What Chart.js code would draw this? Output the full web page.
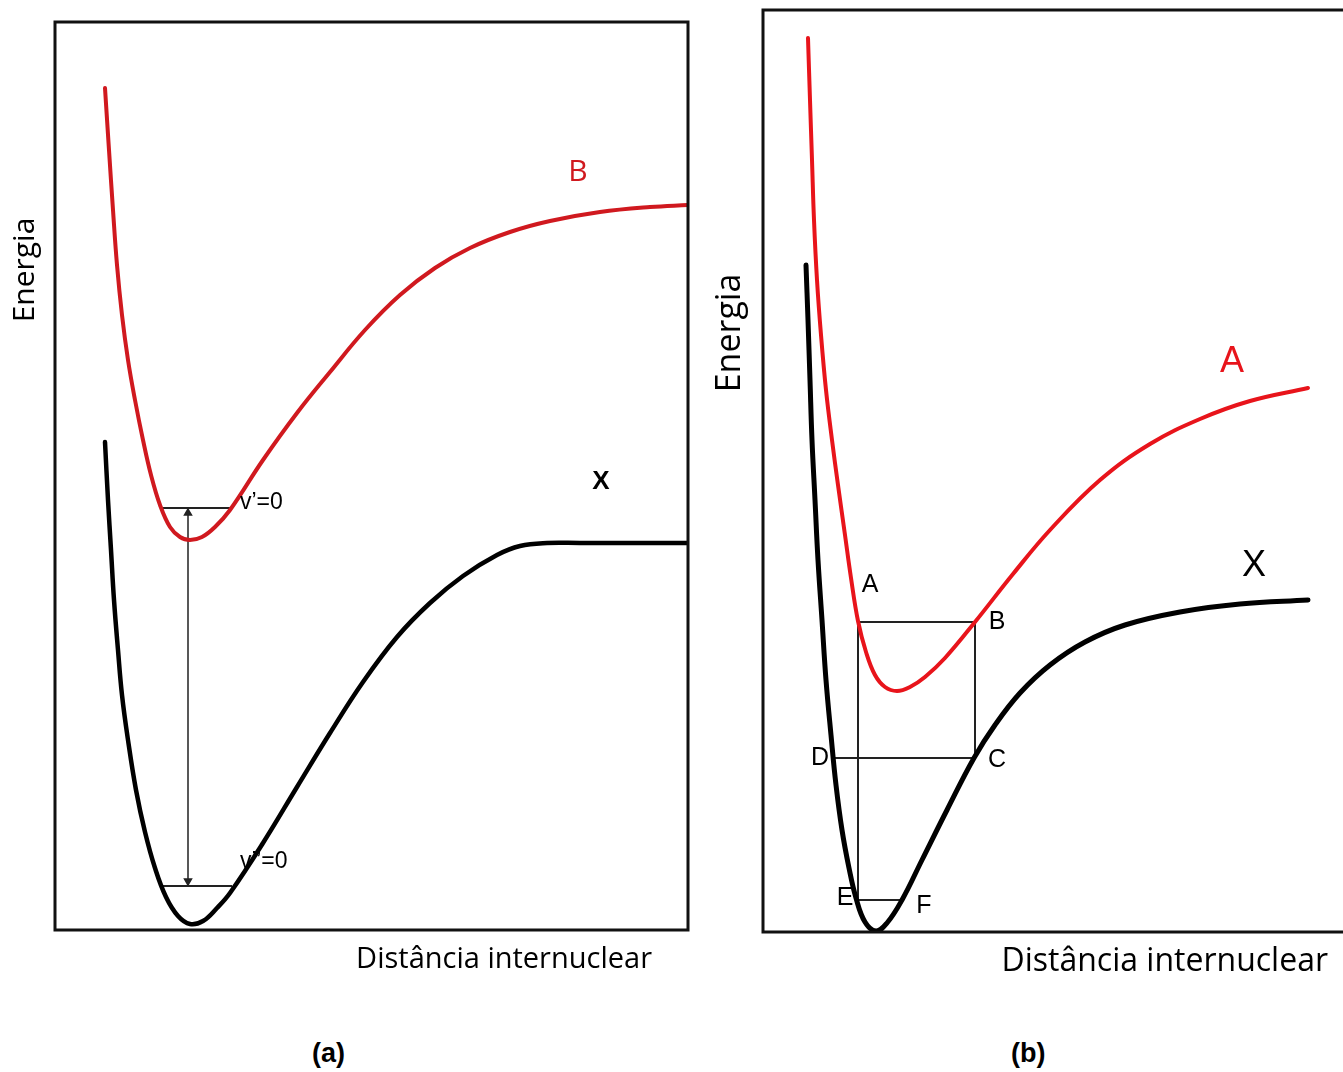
<!DOCTYPE html>
<html>
<head>
<meta charset="utf-8">
<script src="https://cdn.jsdelivr.net/npm/chart.js@4"></script>
<style>
  body { margin: 0; background: #fff; }
  .painel { position: absolute; top: 0; height: 1000px; }
  #painelA { left: 0; width: 700px; }
  #painelB { left: 700px; width: 643px; }
  .letra { position: absolute; top: 1038px; font: bold 27px "Liberation Sans", Arial, sans-serif; }
</style>
</head>
<body>
<div class="painel" id="painelA"><canvas id="graficoA"></canvas></div>
<div class="painel" id="painelB"><canvas id="graficoB"></canvas></div>
<div class="letra" style="left:312px">(a)</div>
<div class="letra" style="left:1011px">(b)</div>

<script>
// ---- painel (a): estados X e B (distância, energia em unidades arbitrárias)
const distB_a = [0.50, 0.54, 0.58, 0.62, 0.67, 0.73, 0.80, 0.88, 0.96, 1.05, 1.15, 1.25, 1.35, 1.47, 1.60, 1.75, 2.08, 2.42, 2.75, 3.10, 3.45, 3.80, 4.15, 4.55, 4.95, 5.45, 5.95, 6.33];
const energB_a = [8.42, 7.80, 7.20, 6.65, 6.15, 5.70, 5.30, 4.90, 4.55, 4.25, 4.03, 3.93, 3.90, 3.93, 4.03, 4.20, 4.70, 5.17, 5.58, 6.00, 6.35, 6.62, 6.82, 6.98, 7.09, 7.18, 7.23, 7.25];

const distX_a = [0.50, 0.53, 0.56, 0.59, 0.63, 0.67, 0.73, 0.81, 0.90, 1.00, 1.11, 1.23, 1.35, 1.48, 1.62, 1.75, 2.08, 2.42, 2.75, 3.08, 3.42, 3.75, 4.08, 4.42, 4.65, 4.92, 5.25, 5.75, 6.33];
const energX_a = [4.88, 4.30, 3.80, 3.30, 2.80, 2.35, 1.90, 1.40, 0.98, 0.62, 0.33, 0.14, 0.06, 0.09, 0.22, 0.37, 0.87, 1.43, 1.97, 2.48, 2.93, 3.27, 3.54, 3.75, 3.84, 3.87, 3.87, 3.87, 3.87];

// níveis v'=0 e v''=0 e a transição entre eles
const nivelB_dist = [1.07, 1.75];
const nivelB_energ = 4.22;
const nivelX_dist = [1.07, 1.77];
const nivelX_energ = 0.44;
const transicao_dist = 1.33;

// ---- painel (b): estados X e A
const distA_b = [0.45, 0.47, 0.49, 0.51, 0.54, 0.58, 0.63, 0.69, 0.75, 0.82, 0.88, 0.95, 1.03, 1.12, 1.22, 1.34, 1.47, 1.62, 1.82, 2.12, 2.50, 2.87, 3.37, 3.87, 4.37, 4.87, 5.45];
const energA_b = [8.94, 8.32, 7.72, 7.12, 6.52, 5.97, 5.42, 4.92, 4.47, 3.97, 3.54, 3.11, 2.80, 2.57, 2.45, 2.41, 2.45, 2.55, 2.74, 3.10, 3.58, 4.02, 4.52, 4.88, 5.13, 5.31, 5.44];

const distX_b = [0.43, 0.45, 0.47, 0.49, 0.52, 0.55, 0.59, 0.63, 0.68, 0.73, 0.79, 0.86, 0.93, 1.02, 1.13, 1.24, 1.39, 1.59, 1.84, 2.11, 2.32, 2.57, 2.87, 3.22, 3.62, 4.17, 4.77, 5.45];
const energX_b = [6.67, 6.12, 5.52, 4.92, 4.32, 3.72, 3.12, 2.52, 1.97, 1.47, 1.02, 0.64, 0.34, 0.10, 0.01, 0.09, 0.32, 0.72, 1.22, 1.74, 2.07, 2.39, 2.67, 2.90, 3.07, 3.20, 3.28, 3.32];

// ciclo D -> C -> B -> A -> E -> F
const cicloRotulos = ["D", "C", "B", "A", "E", "F"];
const ciclo_dist = [0.72, 2.12, 2.12, 0.95, 0.95, 1.39];
const ciclo_energ = [1.74, 1.74, 3.10, 3.10, 0.32, 0.32];

function pontos(xs, ys) {
    return xs.map(function (x, i) { return { x: x, y: Array.isArray(ys) ? ys[i] : ys }; });
}

const vermelho = "#d0191f";
const fonteTexto = '"Open Sans", sans-serif';
const fonteArial = '"Liberation Sans", Arial, sans-serif';

// textos e moldura, desenhados depois das curvas
function pluginTextos(textos, eixos, lados) {
    return {
        id: "textos",
        afterDraw: function (chart) {
            const ctx = chart.ctx;
            const area = chart.chartArea;
            const sx = chart.scales.x, sy = chart.scales.y;
            ctx.save();
            ctx.strokeStyle = "#111";
            ctx.lineWidth = 3;
            ctx.beginPath();
            if (lados.right) {
                ctx.moveTo(area.left, area.top);
                ctx.lineTo(area.right, area.top);
                ctx.lineTo(area.right, area.bottom);
                ctx.lineTo(area.left, area.bottom);
                ctx.closePath();
            } else {
                ctx.moveTo(area.right, area.top);
                ctx.lineTo(area.left, area.top);
                ctx.lineTo(area.left, area.bottom);
                ctx.lineTo(area.right, area.bottom);
            }
            ctx.stroke();

            textos.forEach(function (t) {
                ctx.fillStyle = t.cor || "#000";
                ctx.font = t.fonte;
                ctx.textAlign = t.alinha || "center";
                ctx.textBaseline = "middle";
                ctx.fillText(t.texto, sx.getPixelForValue(t.x), sy.getPixelForValue(t.y));
            });

            // títulos dos eixos
            ctx.fillStyle = "#000";
            ctx.font = eixos.fonteX;
            ctx.textAlign = "right";
            ctx.textBaseline = "middle";
            ctx.fillText("Distância internuclear", area.right - eixos.dxX, area.bottom + eixos.dyX);

            ctx.translate(area.left - eixos.dxY, area.top + eixos.dyY);
            ctx.rotate(-Math.PI / 2);
            ctx.font = eixos.fonteY;
            ctx.textAlign = "center";
            ctx.fillText("Energia", 0, 0);
            ctx.restore();
        }
    };
}

function curva(dados, cor, largura) {
    return {
        data: dados,
        borderColor: cor,
        borderWidth: largura,
        borderCapStyle: "round",
        tension: 0.4,
        pointRadius: 0,
        showLine: true
    };
}

function segmento(dados, largura) {
    return {
        data: dados,
        borderColor: "#222",
        borderWidth: largura,
        tension: 0,
        pointRadius: 0,
        showLine: true
    };
}

function opcoes(xmax, ymax, padding) {
    return {
        responsive: true,
        maintainAspectRatio: false,
        animation: false,
        layout: { padding: padding },
        plugins: { legend: { display: false }, tooltip: { enabled: false } },
        scales: {
            x: { type: "linear", min: 0, max: xmax, display: false },
            y: { type: "linear", min: 0, max: ymax, display: false }
        }
    };
}

// ---------- gráfico (a)
new Chart("graficoA", {
    type: "scatter",
    data: {
        datasets: [
            curva(pontos(distB_a, energB_a), vermelho, 4),
            curva(pontos(distX_a, energX_a), "#000", 4.5),
            segmento(pontos(nivelB_dist, nivelB_energ), 2),
            segmento(pontos(nivelX_dist, nivelX_energ), 2),
            {
                data: pontos([transicao_dist, transicao_dist], [nivelB_energ - 0.05, nivelX_energ + 0.05]),
                borderColor: "#222",
                backgroundColor: "#222",
                borderWidth: 1.5,
                showLine: true,
                pointStyle: "triangle",
                pointRadius: 4,
                pointRotation: [0, 180]
            }
        ]
    },
    options: opcoes(6.33, 9.08, { left: 55, top: 22, right: 12, bottom: 70 }),
    plugins: [pluginTextos([
        { texto: "B", x: 5.23, y: 7.58, cor: vermelho, fonte: "30px " + fonteTexto },
        { texto: "X", x: 5.46, y: 4.48, fonte: "bold 26px " + fonteArial },
        { texto: "v’=0", x: 1.85, y: 4.27, alinha: "left", fonte: "23px " + fonteArial },
        { texto: "v’’=0", x: 1.85, y: 0.68, alinha: "left", fonte: "23px " + fonteArial }
    ], { fonteX: "29px " + fonteTexto, dxX: 36, dyX: 30, fonteY: "30px " + fonteTexto, dxY: 30, dyY: 248 }, { right: true })]
});

// ---------- gráfico (b)
const textosB = cicloRotulos.map(function (r, i) {
    const desloc = { D: [-0.15, 0], C: [0.22, -0.02], B: [0.22, 0], A: [0.12, 0.37], E: [-0.13, 0.02], F: [0.22, -0.06] }[r];
    return { texto: r, x: ciclo_dist[i] + desloc[0], y: ciclo_energ[i] + desloc[1], fonte: "25px " + fonteArial };
});
textosB.push({ texto: "A", x: 4.69, y: 5.70, cor: "#e8141b", fonte: "36px " + fonteArial });
textosB.push({ texto: "X", x: 4.91, y: 3.66, fonte: "36px " + fonteArial });

new Chart("graficoB", {
    type: "scatter",
    data: {
        datasets: [
            curva(pontos(distA_b, energA_b), "#e8141b", 4),
            curva(pontos(distX_b, energX_b), "#000", 5),
            segmento(pontos(ciclo_dist, ciclo_energ), 2)
        ]
    },
    options: opcoes(5.80, 9.22, { left: 63, top: 10, right: 0, bottom: 68 }),
    plugins: [pluginTextos(textosB,
        { fonteX: "32px " + fonteTexto, dxX: 15, dyX: 30, fonteY: "34px " + fonteTexto, dxY: 33, dyY: 323 }, { right: false })]
});
</script>
</body>
</html>
